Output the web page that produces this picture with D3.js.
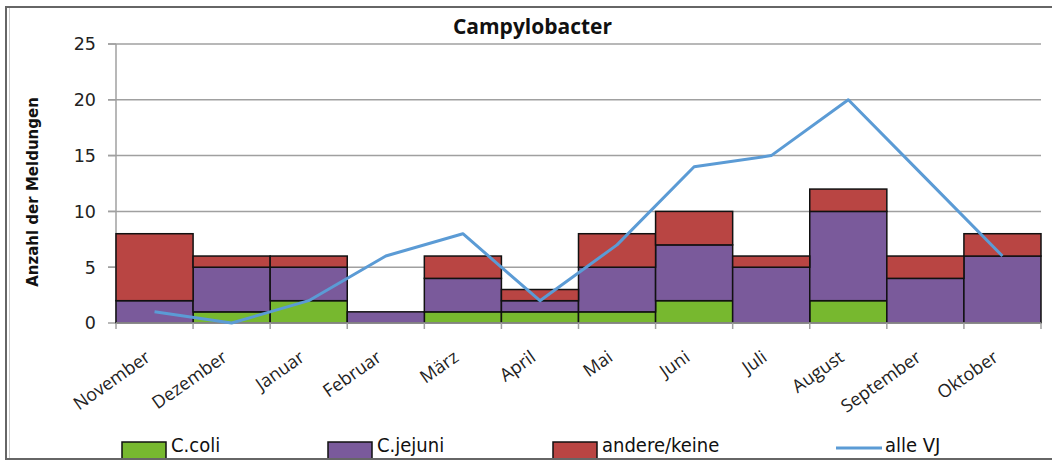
<!DOCTYPE html>
<html><head><meta charset="utf-8">
<script src="https://cdn.jsdelivr.net/npm/d3@7"></script>
<style>body{margin:0;background:#fff}svg{display:block}</style>
</head><body>
<script>
const months = ["November","Dezember","Januar","Februar","März","April","Mai","Juni","Juli","August","September","Oktober"];
const cColi   = [0,1,2,0,1,1,1,2,0,2,0,0];
const cJejuni = [2,4,3,1,3,1,4,5,5,8,4,6];
const andere  = [6,1,1,0,2,1,3,3,1,2,2,2];
const alleVJ  = [1,0,2,6,8,2,7,14,15,20,13,6];
const yTicks = [0,5,10,15,20,25];
const seriesNames = ["C.coli","C.jejuni","andere/keine"];
const colors = ["#77b82f","#7a5a9b","#b94543"];
const lineColor = "#5b9bd5";

const W=1052,H=461;
const svg=d3.select("body").append("svg").attr("width",W).attr("height",H);
svg.append("defs").append("clipPath").attr("id","cp").append("rect").attr("x",0).attr("y",0).attr("width",W).attr("height",458);
const g=svg.append("g").attr("clip-path","url(#cp)");

const x=d3.scaleBand().domain(months).range([116,1041]).padding(0);
const y=d3.scaleLinear().domain([0,25]).range([323,44]);

// gridlines
g.append("g").selectAll("line").data(yTicks.filter(d=>d>0)).join("line")
 .attr("x1",108).attr("x2",1041).attr("y1",d=>y(d)).attr("y2",d=>y(d))
 .attr("stroke","#a0a0a0").attr("stroke-width",1.5);
// y axis line + ticks
g.append("line").attr("x1",116).attr("x2",116).attr("y1",y(25)).attr("y2",y(0)).attr("stroke","#a0a0a0").attr("stroke-width",1.5);
g.append("g").selectAll("line").data(yTicks).join("line")
 .attr("x1",108).attr("x2",116).attr("y1",d=>y(d)).attr("y2",d=>y(d)).attr("stroke","#a0a0a0").attr("stroke-width",1.5);
g.append("g").selectAll("text").data(yTicks).join("text")
 .attr("x",96).attr("y",d=>y(d)).attr("dy","0.36em").attr("text-anchor","end")
 .attr("font-family","DejaVu Sans").attr("font-size",17.5).attr("fill","#222").text(d=>d);

// stacked bars
const rows=months.map((m,i)=>({m,v:[cColi[i],cJejuni[i],andere[i]]}));
const stack=d3.stack().keys([0,1,2]).value((d,k)=>d.v[k])(rows);
stack.forEach((s,k)=>{
  g.append("g").selectAll("rect").data(s.filter(d=>d[1]>d[0])).join("rect")
   .attr("x",d=>x(d.data.m)).attr("width",x.bandwidth())
   .attr("y",d=>y(d[1])).attr("height",d=>y(d[0])-y(d[1]))
   .attr("fill",colors[k]).attr("stroke","#111").attr("stroke-width",1.5);
});

// x axis
g.append("line").attr("x1",116).attr("x2",1041).attr("y1",y(0)).attr("y2",y(0)).attr("stroke","#a0a0a0").attr("stroke-width",1.5);
const bounds=months.map(m=>x(m)).concat([x.range()[1]]);
g.append("g").selectAll("line").data(bounds).join("line")
 .attr("x1",d=>d).attr("x2",d=>d).attr("y1",y(0)).attr("y2",y(0)+6).attr("stroke","#a0a0a0").attr("stroke-width",1.5);
g.append("g").selectAll("text").data(months).join("text")
 .attr("transform",d=>`translate(${x(d)+x.bandwidth()/2-3},${y(0)+37}) rotate(-35)`)
 .attr("text-anchor","end").attr("font-family","Open Sans").attr("font-size",18).attr("fill","#222").text(d=>d);

// line
const line=d3.line().x((d,i)=>x(months[i])+x.bandwidth()/2).y(d=>y(d));
g.append("path").datum(alleVJ).attr("d",line).attr("fill","none").attr("stroke",lineColor).attr("stroke-width",3).attr("stroke-linejoin","round");

// title
g.append("text").attr("x",532.5).attr("y",34).attr("text-anchor","middle")
 .attr("font-family","Open Sans").attr("font-weight","bold").attr("font-size",21).attr("fill","#111").text("Campylobacter");
// y title
g.append("text").attr("transform","translate(38,192) rotate(-90)").attr("text-anchor","middle")
 .attr("font-family","DejaVu Sans").attr("font-weight","bold").attr("font-size",15).attr("fill","#111").text("Anzahl der Meldungen");

// legend
const legX=[122,328,553];
seriesNames.forEach((n,k)=>{
  g.append("rect").attr("x",legX[k]).attr("y",442).attr("width",44).attr("height",20)
   .attr("fill",colors[k]).attr("stroke","#111").attr("stroke-width",1.5);
  g.append("text").attr("x",legX[k]+49).attr("y",452).attr("font-family","DejaVu Sans Condensed, DejaVu Sans").attr("font-stretch","condensed")
   .attr("font-size",20).attr("fill","#111").text(n);
});
g.append("line").attr("x1",836).attr("x2",882).attr("y1",448).attr("y2",448).attr("stroke",lineColor).attr("stroke-width",3);
g.append("text").attr("x",885).attr("y",452).attr("font-family","DejaVu Sans Condensed, DejaVu Sans").attr("font-stretch","condensed")
 .attr("font-size",20).attr("fill","#111").text("alle VJ");

// border
svg.append("line").attr("x1",5).attr("x2",W).attr("y1",7).attr("y2",7).attr("stroke","#666").attr("stroke-width",2);
svg.append("line").attr("x1",6).attr("x2",6).attr("y1",6).attr("y2",459).attr("stroke","#666").attr("stroke-width",2);
svg.append("line").attr("x1",9.5).attr("x2",9.5).attr("y1",8).attr("y2",458).attr("stroke","#ccc").attr("stroke-width",1);
svg.append("line").attr("x1",5).attr("x2",W).attr("y1",459).attr("y2",459).attr("stroke","#666").attr("stroke-width",2);
</script>
</body></html>
